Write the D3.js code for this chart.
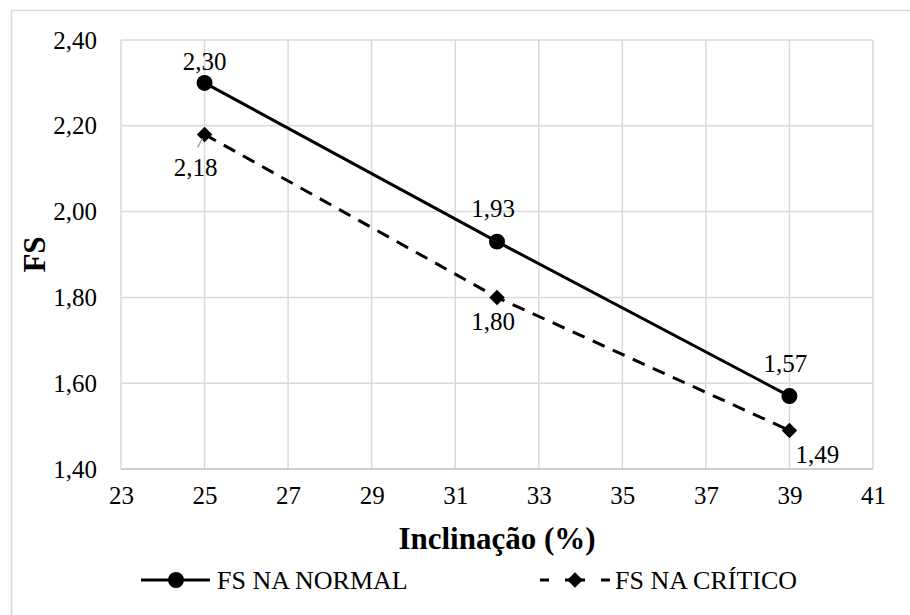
<!DOCTYPE html>
<html>
<head>
<meta charset="utf-8">
<script src="https://cdn.jsdelivr.net/npm/d3@7"></script>
</head>
<body style="margin:0; background:#fff">
<svg id="chart" width="910" height="615"></svg>
<script>
// data
var inclinacao = [25, 32, 39];
var fsNormal = [2.30, 1.93, 1.57];
var fsCritico = [2.18, 1.80, 1.49];
var seriesNames = ["FS NA NORMAL", "FS NA CRÍTICO"];
var xTicks = [23, 25, 27, 29, 31, 33, 35, 37, 39, 41];
var yTicks = [1.40, 1.60, 1.80, 2.00, 2.20, 2.40];
// where excel put each data label
var normalLabelPos = ["top", "above", "above"];
var criticoLabelPos = ["belowleft", "below", "belowright"];

var FONT = "'Liberation Serif'";

var svg = d3.select("#chart");
var fmt = function(v) { return d3.format(".2f")(v).replace(".", ","); };

var plotL = 121, plotR = 873, plotT = 40, plotB = 469;

var x = d3.scaleLinear().domain([23, 41]).range([plotL, plotR]);
var y = d3.scaleLinear().domain([1.40, 2.40]).range([plotB, plotT]);

// outer chart border (only top/left are inside the picture)
svg.append("rect")
  .attr("x", 11.5).attr("y", 10.5)
  .attr("width", 940).attr("height", 640)
  .attr("fill", "none").attr("stroke", "#d9d9d9").attr("stroke-width", 1.5);

// gridlines
svg.append("g").selectAll("line")
  .data(xTicks).enter().append("line")
  .attr("x1", function(d) { return x(d); }).attr("x2", function(d) { return x(d); })
  .attr("y1", plotT).attr("y2", plotB)
  .attr("stroke", "#d9d9d9").attr("stroke-width", 1.5);

svg.append("g").selectAll("line")
  .data(yTicks).enter().append("line")
  .attr("x1", plotL).attr("x2", plotR)
  .attr("y1", function(d) { return y(d); }).attr("y2", function(d) { return y(d); })
  .attr("stroke", function(d) { return d == 1.40 ? "#bfbfbf" : "#d9d9d9"; })
  .attr("stroke-width", 1.5);

// axes (labels only, the lines are the grid)
var xAxis = svg.append("g")
  .attr("transform", "translate(0," + plotB + ")")
  .call(d3.axisBottom(x).tickValues(xTicks).tickSize(0).tickPadding(12).tickFormat(d3.format("d")));
xAxis.select(".domain").remove();
xAxis.attr("font-family", FONT).attr("font-size", 25);
xAxis.selectAll("text").attr("dy", "0.9em");

var yAxis = svg.append("g")
  .attr("transform", "translate(" + plotL + ",0)")
  .call(d3.axisLeft(y).tickValues(yTicks).tickSize(0).tickPadding(24).tickFormat(fmt));
yAxis.select(".domain").remove();
yAxis.attr("font-family", FONT).attr("font-size", 25);

// axis titles
svg.append("text")
  .attr("x", (plotL + plotR) / 2).attr("y", 549)
  .attr("text-anchor", "middle")
  .attr("font-size", 31).attr("font-weight", "bold")
  .text("Inclinação (%)");

svg.append("text")
  .attr("transform", "translate(45," + ((plotT + plotB) / 2) + ") rotate(-90)")
  .attr("text-anchor", "middle")
  .attr("font-size", 31).attr("font-weight", "bold")
  .text("FS");

var normalPts = inclinacao.map(function(d, i) { return [d, fsNormal[i]]; });
var criticoPts = inclinacao.map(function(d, i) { return [d, fsCritico[i]]; });

var line = d3.line()
  .x(function(d) { return x(d[0]); })
  .y(function(d) { return y(d[1]); });

svg.append("path").datum(normalPts)
  .attr("d", line).attr("fill", "none")
  .attr("stroke", "#000").attr("stroke-width", 3);

svg.append("path").datum(criticoPts)
  .attr("d", line).attr("fill", "none")
  .attr("stroke", "#000").attr("stroke-width", 3)
  .attr("stroke-dasharray", "13,9");

var circle = d3.symbol().type(d3.symbolCircle).size(200);
var diamond = d3.symbol().type(d3.symbolSquare).size(120);

svg.append("g").selectAll("path")
  .data(normalPts).enter().append("path")
  .attr("d", circle)
  .attr("transform", function(d) { return "translate(" + x(d[0]) + "," + y(d[1]) + ")"; })
  .attr("fill", "#000");

svg.append("g").selectAll("path")
  .data(criticoPts).enter().append("path")
  .attr("d", diamond)
  .attr("transform", function(d) { return "translate(" + x(d[0]) + "," + y(d[1]) + ") rotate(45)"; })
  .attr("fill", "#000");

// data labels
var offsets = {
  top: [0, -22], above: [-4, -33],
  belowleft: [-9, 33], below: [-4, 24], belowright: [28, 24]
};

function addLabels(pts, pos) {
  svg.append("g").selectAll("text")
    .data(pts).enter().append("text")
    .attr("x", function(d, i) { return x(d[0]) + offsets[pos[i]][0]; })
    .attr("y", function(d, i) { return y(d[1]) + offsets[pos[i]][1]; })
    .attr("dy", "0.35em")
    .attr("text-anchor", "middle")
    .attr("font-size", 25)
    .text(function(d) { return fmt(d[1]); });
}
addLabels(normalPts, normalLabelPos);
addLabels(criticoPts, criticoLabelPos);

// leader line for the 2,18 label
svg.append("line")
  .attr("x1", x(inclinacao[0]) - 7).attr("y1", y(fsCritico[0]) + 13)
  .attr("x2", x(inclinacao[0]) - 2).attr("y2", y(fsCritico[0]) + 4)
  .attr("stroke", "#a6a6a6").attr("stroke-width", 1.5);

// legend
var legY = 580;
var leg = svg.append("g");
leg.append("line").attr("x1", 141).attr("x2", 210).attr("y1", legY).attr("y2", legY)
  .attr("stroke", "#000").attr("stroke-width", 3);
leg.append("path").attr("d", circle).attr("transform", "translate(176," + legY + ")");
leg.append("text").attr("x", 217).attr("y", legY).attr("dy", "0.35em")
  .attr("font-size", 26).text(seriesNames[0]);

leg.append("line").attr("x1", 540).attr("x2", 610).attr("y1", legY).attr("y2", legY)
  .attr("stroke", "#000").attr("stroke-width", 3).attr("stroke-dasharray", "9,16,20,16,9");
leg.append("path").attr("d", diamond).attr("transform", "translate(575," + legY + ") rotate(45)");
leg.append("text").attr("x", 615).attr("y", legY).attr("dy", "0.35em")
  .attr("font-size", 26).text(seriesNames[1]);

// serif font for every text
svg.selectAll("text")
  .attr("font-family", FONT)
  .style("font-family", FONT)
  .attr("fill", "#000");
</script>
</body>
</html>
